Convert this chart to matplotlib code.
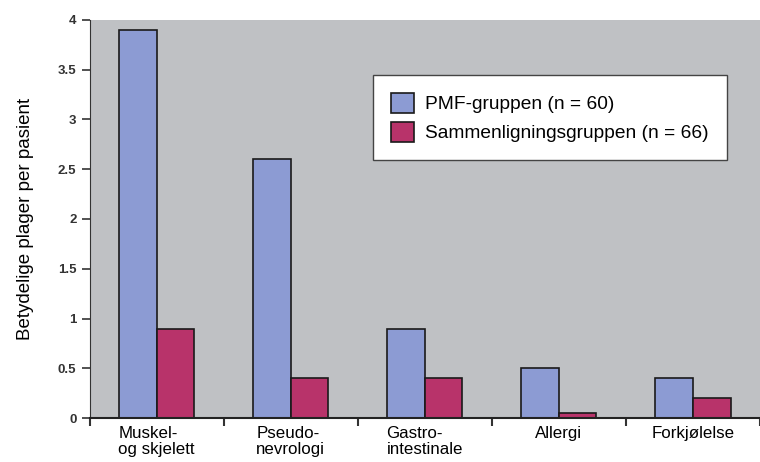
import numpy as np
import matplotlib.pyplot as plt

plt.rcParams['font.family'] = ['Liberation Sans', 'DejaVu Sans']

categories = ['Muskel-\nog skjelett', 'Pseudo-\nnevrologi', 'Gastro-\nintestinale', 'Allergi', 'Forkjølelse']
pmf = [3.9, 2.6, 0.9, 0.5, 0.4]
sammen = [0.9, 0.4, 0.4, 0.05, 0.2]
yticks = [0, 0.5, 1, 1.5, 2, 2.5, 3, 3.5, 4]

fig = plt.figure(figsize=(7.6, 4.62), dpi=100)
ax = fig.add_axes([0.118, 0.095, 0.882, 0.862])
ax.set_facecolor('#bfc1c4')

x = np.arange(len(categories))
w = 0.28
ax.bar(x - w / 2, pmf, w, color='#8c9bd3', edgecolor='#1a1a1a', linewidth=1.2,
       label='PMF-gruppen (n = 60)')
ax.bar(x + w / 2, sammen, w, color='#b8336a', edgecolor='#1a1a1a', linewidth=1.2,
       label='Sammenligningsgruppen (n = 66)')

ax.set_xlim(-0.5, len(categories) - 0.5)
ax.set_ylim(0, 4)
ax.set_yticks(yticks)
ax.set_yticklabels(['0', '0.5', '1', '1.5', '2', '2.5', '3', '3.5', '4'],
                   fontsize=9.5, fontweight='bold', color='#333333')

ax.set_xticks(x)
ax.set_xticklabels(categories, fontsize=12.2, multialignment='left', linespacing=1.05)
ax.tick_params(axis='x', length=0, pad=6)
ax.set_xticks(np.arange(len(categories) + 1) - 0.5, minor=True)
ax.tick_params(axis='x', which='minor', length=6, width=1.5, color='#333333')
ax.tick_params(axis='y', length=6, width=1.2, color='#333333')

for s in ['top', 'right']:
    ax.spines[s].set_visible(False)
ax.spines['left'].set_color('#333333')
ax.spines['bottom'].set_color('#222222')
ax.spines['bottom'].set_linewidth(1.5)

ax.set_ylabel('Betydelige plager per pasient', fontsize=13.5, labelpad=17)

leg = ax.legend(loc='upper left', bbox_to_anchor=(0.423, 0.862), fontsize=13.8,
                fancybox=False, framealpha=1, edgecolor='#444444',
                borderpad=0.95, handlelength=1.2, handleheight=1.2, labelspacing=0.45,
                handletextpad=0.55, borderaxespad=0)
leg.get_frame().set_linewidth(1.0)

plt.savefig('out.png', dpi=100)
